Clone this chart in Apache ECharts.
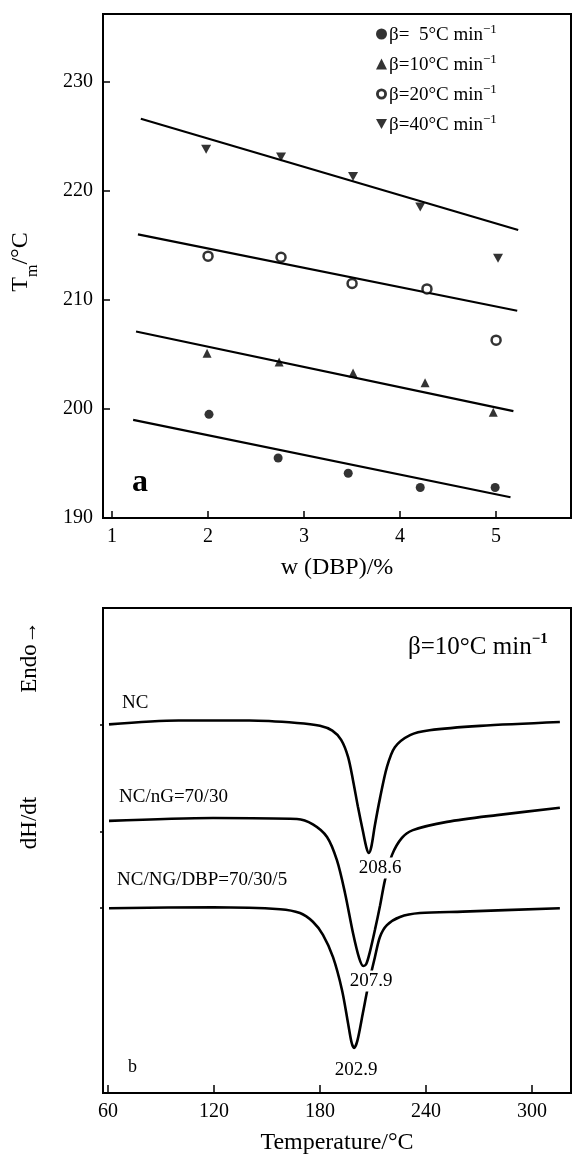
<!DOCTYPE html>
<html><head><meta charset="utf-8">
<script src="https://cdn.jsdelivr.net/npm/echarts@6/dist/echarts.min.js"></script>
<style>html,body{margin:0;padding:0;background:#fff}#c{width:572px;height:1162px}</style>
</head><body><div id="c"></div><script>
// ---------- Panel a: Tm vs w(DBP) ----------
const xTicksA = [1, 2, 3, 4, 5];
const yTicksA = [190, 200, 210, 220, 230];
const seriesNamesA = ['β=  5°C min', 'β=10°C min', 'β=20°C min', 'β=40°C min'];

const w5 = [2.01, 2.73, 3.46, 4.21, 4.99];
const tm5 = [199.5, 195.5, 194.1, 192.8, 192.8];
const w10 = [1.99, 2.74, 3.51, 4.26, 4.97];
const tm10 = [205.1, 204.3, 203.3, 202.4, 199.7];
const w20 = [2.00, 2.76, 3.50, 4.28, 5.00];
const tm20 = [214.0, 213.9, 211.5, 211.0, 206.3];
const w40 = [1.98, 2.76, 3.51, 4.21, 5.02];
const tm40 = [223.8, 223.1, 221.3, 218.5, 213.8];

// fitted straight lines (end points)
const fit5X = [1.22, 5.15],  fit5Y = [199.0, 191.9];
const fit10X = [1.25, 5.18], fit10Y = [207.1, 199.8];
const fit20X = [1.27, 5.22], fit20Y = [216.0, 209.0];
const fit40X = [1.30, 5.23], fit40Y = [226.6, 216.4];

// ---------- Panel b: DSC curves ----------
const xTicksB = [60, 120, 180, 240, 300];
const curveNames = ['NC', 'NC/nG=70/30', 'NC/NG/DBP=70/30/5'];
const peakLabels = ['208.6', '207.9', '202.9'];

const tNC = [60.6, 100, 140, 167, 180, 187, 192, 195.9, 198.7, 201.5, 204.3, 206.3, 207.7, 209.1, 211, 214, 217.9, 222.4, 231, 242, 270.6, 315.8];
const hNC = [76.0, 76.8, 76.8, 76.3, 75.7, 74.7, 72.8, 69.3, 64.5, 59.0, 54.0, 50.6, 49.5, 50.8, 55.0, 60.8, 67.2, 71.3, 73.8, 74.8, 75.7, 76.5];

const tNG = [60.6, 119.5, 167, 176, 184, 189.6, 194.2, 198.7, 202.2, 204.5, 206.2, 208.2, 211.1, 214, 216.8, 220.8, 226.4, 232.6, 251.9, 280.2, 315.8];
const hNG = [56.1, 56.7, 56.5, 55.4, 52.8, 48.0, 41.2, 33.0, 27.8, 26.2, 26.6, 29.0, 33.6, 38.6, 43.9, 49.1, 52.6, 54.2, 55.9, 57.3, 58.8];

const tDBP = [60.6, 119.5, 157.4, 168.7, 176, 181.7, 187.4, 192.5, 195.9, 197.9, 199.3, 201.2, 204.3, 207.2, 211.1, 214, 217.9, 225.3, 236.6, 260.9, 315.8];
const hDBP = [38.1, 38.3, 37.9, 37.1, 35.3, 32.6, 28.0, 21.2, 14.4, 10.4, 9.3, 10.8, 16.5, 21.9, 28.0, 32.2, 34.6, 36.3, 37.1, 37.4, 38.1];

const zip = (a, b) => a.map((v, i) => [v, b[i]]);

const FONT = "'Liberation Serif','Times New Roman',serif";
const downTri = 'path://M0,0L10,0L5,9Z';
const ring = 'path://M5,0A5,5 0 1 1 4.99,0ZM5,2.6A2.4,2.4 0 1 0 5.01,2.6Z';

const chart = echarts.init(document.getElementById('c'), null, {renderer: 'canvas'});

const scatterBase = {type: 'scatter', xAxisIndex: 0, yAxisIndex: 0, z: 5};
const fitBase = {type: 'line', xAxisIndex: 0, yAxisIndex: 0, symbol: 'none', silent: true,
  lineStyle: {color: '#000', width: 2.2}};
const curveBase = {type: 'line', xAxisIndex: 1, yAxisIndex: 1, symbol: 'none', smooth: 0.3,
  lineStyle: {color: '#000', width: 2.6}};

chart.setOption({
  backgroundColor: '#fff',
  animation: false,
  textStyle: {fontFamily: FONT, color: '#000'},
  grid: [
    {left: 103, right: 1, top: 14, height: 504, show: true, borderColor: '#000', borderWidth: 2, backgroundColor: 'transparent'},
    {left: 103, right: 1, top: 608, height: 485, show: true, borderColor: '#000', borderWidth: 2, backgroundColor: 'transparent'}
  ],
  legend: {
    orient: 'vertical', left: 376, top: 23, itemGap: 7, itemWidth: 11, itemHeight: 11,
    selectedMode: false, padding: 0,
    data: [
      {name: seriesNamesA[0], icon: 'circle'},
      {name: seriesNamesA[1], icon: 'triangle'},
      {name: seriesNamesA[2], icon: ring, itemStyle: {color: '#000', borderWidth: 0}},
      {name: seriesNamesA[3], icon: downTri}
    ],
    formatter: n => '{b|' + n + '}{s|−1}',
    textStyle: {
      fontFamily: FONT, color: '#000', padding: [0, 0, 0, -3],
      rich: {
        b: {fontFamily: FONT, fontSize: 19, lineHeight: 22, verticalAlign: 'bottom'},
        s: {fontFamily: FONT, fontSize: 13, lineHeight: 22, verticalAlign: 'top', padding: [0, 0, 10, 0]}
      }
    }
  },
  xAxis: [
    {gridIndex: 0, type: 'value', min: 0.906, max: 5.78,
      name: 'w (DBP)/%', nameLocation: 'middle', nameGap: 38,
      nameTextStyle: {fontFamily: FONT, fontSize: 24, color: '#000'},
      axisLine: {lineStyle: {color: '#000', width: 2}},
      axisTick: {inside: true, length: 7, customValues: xTicksA, lineStyle: {color: '#000', width: 1.5}},
      axisLabel: {customValues: xTicksA, fontFamily: FONT, fontSize: 20, color: '#000', margin: 9},
      splitLine: {show: false}},
    {gridIndex: 1, type: 'value', min: 57.2, max: 322.1,
      name: 'Temperature/°C', nameLocation: 'middle', nameGap: 38,
      nameTextStyle: {fontFamily: FONT, fontSize: 24, color: '#000'},
      axisLine: {lineStyle: {color: '#000', width: 2}},
      axisTick: {inside: true, length: 8, customValues: xTicksB, lineStyle: {color: '#000', width: 1.5}},
      axisLabel: {customValues: xTicksB, fontFamily: FONT, fontSize: 20, color: '#000', margin: 9},
      splitLine: {show: false}}
  ],
  yAxis: [
    {gridIndex: 0, type: 'value', min: 190, max: 236.2,
      name: '{t|T}{m|m}{t|/°C}', nameLocation: 'middle', nameGap: 62, nameRotate: 90,
      nameTextStyle: {fontFamily: FONT, color: '#000', padding: [0, 0, 0, 8], rich: {
        t: {fontFamily: FONT, fontSize: 24, lineHeight: 32, verticalAlign: 'top'},
        m: {fontFamily: FONT, fontSize: 16, lineHeight: 16, verticalAlign: 'bottom'}
      }},
      axisLine: {lineStyle: {color: '#000', width: 2}},
      axisTick: {inside: true, length: 7, customValues: yTicksA, lineStyle: {color: '#000', width: 1.5}},
      axisLabel: {customValues: yTicksA, fontFamily: FONT, fontSize: 20, color: '#000', margin: 10},
      splitLine: {show: false}},
    {gridIndex: 1, type: 'value', min: 0, max: 100,
      axisLine: {lineStyle: {color: '#000', width: 2}},
      axisTick: {inside: false, length: 3, customValues: [38.1, 53.8, 75.9], lineStyle: {color: '#000', width: 1.5}},
      axisLabel: {show: false},
      splitLine: {show: false}}
  ],
  series: [
    Object.assign({}, scatterBase, {name: seriesNamesA[0], data: zip(w5, tm5), symbol: 'circle', symbolSize: 9, itemStyle: {color: '#000'}}),
    Object.assign({}, scatterBase, {name: seriesNamesA[1], data: zip(w10, tm10), symbol: 'triangle', symbolSize: 9, itemStyle: {color: '#000'}}),
    Object.assign({}, scatterBase, {name: seriesNamesA[2], data: zip(w20, tm20), symbol: 'circle', symbolSize: 9, itemStyle: {color: '#fff', borderColor: '#000', borderWidth: 2.5}}),
    Object.assign({}, scatterBase, {name: seriesNamesA[3], data: zip(w40, tm40), symbol: downTri, symbolSize: [10, 9], itemStyle: {color: '#000'}}),
    Object.assign({}, fitBase, {name: 'fit5', data: zip(fit5X, fit5Y)}),
    Object.assign({}, fitBase, {name: 'fit10', data: zip(fit10X, fit10Y)}),
    Object.assign({}, fitBase, {name: 'fit20', data: zip(fit20X, fit20Y)}),
    Object.assign({}, fitBase, {name: 'fit40', data: zip(fit40X, fit40Y)}),
    Object.assign({}, curveBase, {name: curveNames[0], data: zip(tNC, hNC)}),
    Object.assign({}, curveBase, {name: curveNames[1], data: zip(tNG, hNG)}),
    Object.assign({}, curveBase, {name: curveNames[2], data: zip(tDBP, hDBP)})
  ],
  graphic: [
    {type: 'text', x: 132, y: 467, z: 10, style: {text: 'a', font: "bold 32px " + FONT, fill: '#000'}},
    {type: 'text', x: 30, y: 657, rotation: Math.PI / 2, style: {text: 'Endo→', font: "23px " + FONT, fill: '#000', textAlign: 'center', textVerticalAlign: 'middle'}},
    {type: 'text', x: 30, y: 823, rotation: Math.PI / 2, style: {text: 'dH/dt', font: "23px " + FONT, fill: '#000', textAlign: 'center', textVerticalAlign: 'middle'}},
    {type: 'text', x: 408, y: 632, style: {
      text: '{b|β=10°C min}{s|−1}', fill: '#000',
      rich: {b: {fontFamily: FONT, fontSize: 25, lineHeight: 28, verticalAlign: 'bottom'},
             s: {fontFamily: FONT, fontSize: 15, fontWeight: 'bold', lineHeight: 28, verticalAlign: 'top', padding: [0, 0, 12, 0]}}}},
    {type: 'text', x: 122, y: 694, style: {text: curveNames[0], font: "19px " + FONT, fill: '#000'}},
    {type: 'text', x: 119, y: 788, style: {text: curveNames[1], font: "19px " + FONT, fill: '#000'}},
    {type: 'text', x: 117, y: 871, style: {text: curveNames[2], font: "19px " + FONT, fill: '#000'}},
    {type: 'text', x: 380, y: 868, z: 20, style: {text: peakLabels[0], font: "19px " + FONT, fill: '#000', textAlign: 'center', textVerticalAlign: 'middle', backgroundColor: '#fff', padding: [1, 2]}},
    {type: 'text', x: 371, y: 981, z: 20, style: {text: peakLabels[1], font: "19px " + FONT, fill: '#000', textAlign: 'center', textVerticalAlign: 'middle', backgroundColor: '#fff', padding: [1, 2]}},
    {type: 'text', x: 356, y: 1070, z: 20, style: {text: peakLabels[2], font: "19px " + FONT, fill: '#000', textAlign: 'center', textVerticalAlign: 'middle', backgroundColor: '#fff', padding: [1, 2]}},
    {type: 'text', x: 128, y: 1058, style: {text: 'b', font: "18px " + FONT, fill: '#000'}}
  ]
});
</script></body></html>
